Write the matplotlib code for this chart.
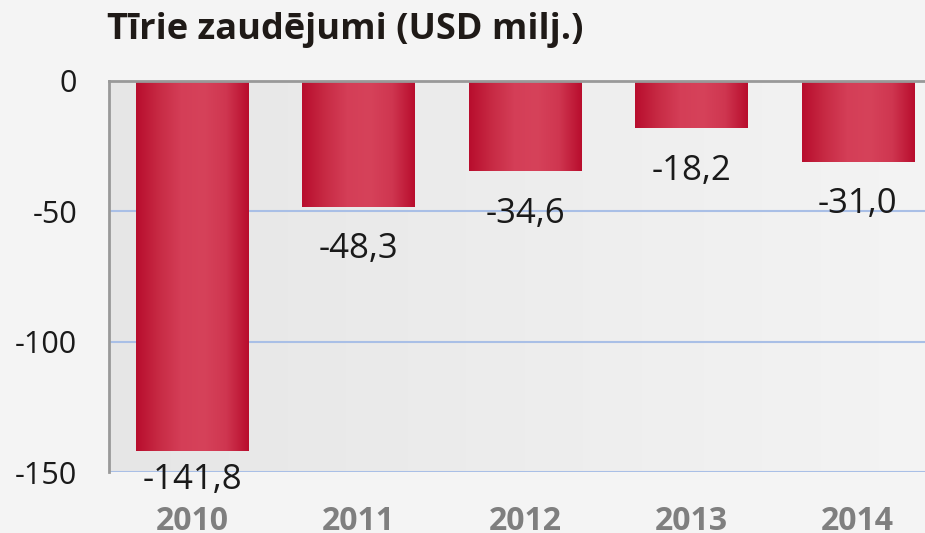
import matplotlib.pyplot as plt
import numpy as np
from matplotlib.colors import LinearSegmentedColormap

# data
years = ['2010', '2011', '2012', '2013', '2014']
losses = [-141.8, -48.3, -34.6, -18.2, -31.0]
yticks = [0, -50, -100, -150]
title = 'Tīrie zaudējumi (USD milj.)'

plt.rcParams['font.family'] = ['Open Sans', 'DejaVu Sans']

fig = plt.figure(figsize=(9.25, 5.33), dpi=100)
fig.patch.set_facecolor('#f4f4f4')
ax = fig.add_axes([109/925, 61/533, 832/925, 391/533])
ax.set_xlim(-0.5, 4.5)
ax.set_ylim(-150, 0)

# background gradient of plot area
bg = LinearSegmentedColormap.from_list('bg', ['#e6e6e6', '#f4f4f4'])
ax.imshow(np.linspace(0, 1, 256).reshape(1, -1), cmap=bg, aspect='auto',
          extent=(-0.5, 4.5, -150, 0), zorder=0)

# grid lines
for v in yticks[1:]:
    ax.axhline(v, color='#a9bfe6', lw=1.5, zorder=1)

# bars with horizontal gradient
barcm = LinearSegmentedColormap.from_list(
    'bar', ['#b80d2d', '#c72a44', '#d43e57', '#d6425a', '#cf3650', '#b80d2d'])
w = 0.675
grad = np.linspace(0, 1, 256).reshape(1, -1)
for i, v in enumerate(losses):
    ax.imshow(grad, cmap=barcm, aspect='auto',
              extent=(i - w/2, i + w/2, v, 0), zorder=2)
    # label below bar end, kept near the bottom of the plot area
    ly = max(v - 16.3, -153.0)
    ax.text(i, ly, f'{v:.1f}'.replace('.', ','), ha='center', va='center',
            fontsize=25, color='#1a1a1a', zorder=3)

ax.set_xticks(range(len(years)))
ax.set_xticklabels(years, fontsize=23, fontweight='bold', color='#7f7f7f')
ax.set_yticks(yticks)
ax.set_yticklabels([str(t) for t in yticks], fontsize=22, color='#1a1a1a')
ax.tick_params(length=0)
ax.tick_params(axis='y', pad=23)
ax.tick_params(axis='x', pad=24)

for s in ['right', 'bottom']:
    ax.spines[s].set_visible(False)
ax.spines['top'].set_color('#999999')
ax.spines['top'].set_linewidth(2)
ax.spines['left'].set_color('#999999')
ax.spines['left'].set_linewidth(2)
ax.spines['top'].set_zorder(4)

fig.text(107/925, 1 - 30/533, title, fontsize=26, fontweight='bold',
         color='#1f1a17', va='center', ha='left')

fig.savefig('out.png', dpi=100, facecolor=fig.get_facecolor())
